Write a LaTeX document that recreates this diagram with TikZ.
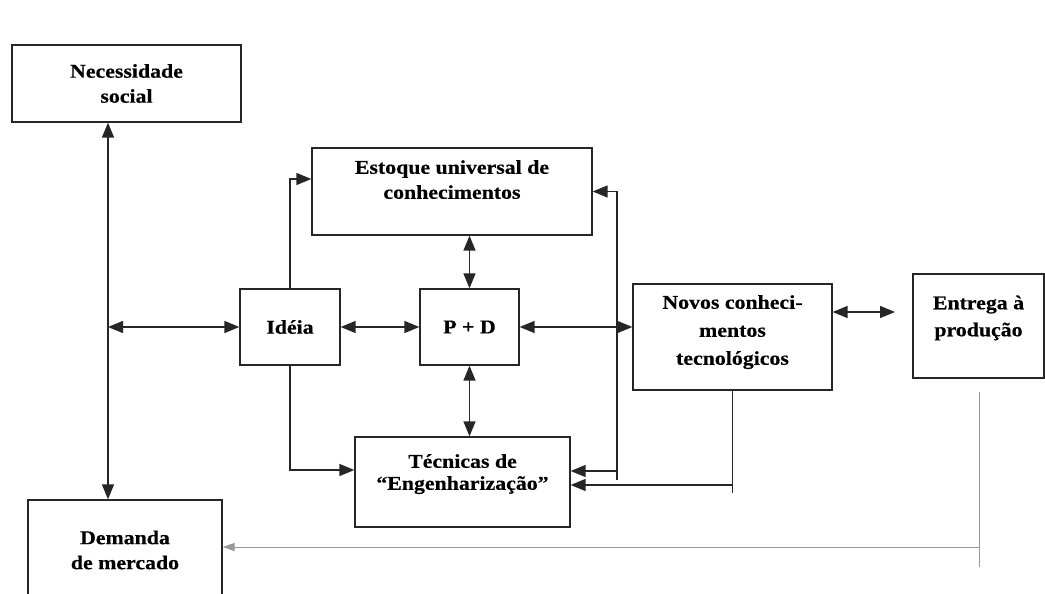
\documentclass[tikz,border=0pt]{standalone}
\usepackage{fontspec}
\setmainfont{Liberation Serif}[FakeStretch=1.12,BoldFeatures={FakeBold=0.4}]
\usetikzlibrary{arrows.meta}

\begin{document}
\begin{tikzpicture}[x=1pt,y=-1pt,
	box/.style={draw=black!85,line width=1.3pt,rectangle,align=center,inner sep=2pt,font=\fontsize{19.5}{25}\selectfont\bfseries},
	link/.style={draw=black!85,line width=1.4pt},
	back/.style={draw=black!40,line width=0.9pt},
	>={Triangle[length=15pt,width=12pt]}]
	\clip (0,0) rectangle (1045,594);
	\fill[white] (0,0) rectangle (1045,594);
	\node[box,minimum width=229pt,minimum height=77pt] (nec) at (126.5,83.5) {Necessidade\\social};
	\node[box,minimum width=280pt,minimum height=87pt,text depth=24pt] (est) at (452,191.5) {Estoque universal de\\conhecimentos};
	\node[box,minimum width=100pt,minimum height=76pt] (idea) at (290,327) {Idéia};
	\node[box,minimum width=99pt,minimum height=76pt] (pd) at (469.5,327) {P + D};
	\node[box,minimum width=199pt,minimum height=106pt,text depth=14pt,font=\fontsize{19.5}{28}\selectfont\bfseries] (novos) at (732.5,337) {Novos conheci-\\mentos\\tecnológicos};
	\node[box,minimum width=131pt,minimum height=104pt,text depth=20pt,font=\fontsize{19.5}{27}\selectfont\bfseries] (entrega) at (978.5,326) {Entrega à\\produção};
	\node[box,minimum width=215pt,minimum height=90pt,text depth=20pt,font=\fontsize{19.5}{22}\selectfont\bfseries] (tec) at (462.5,482) {Técnicas de\\“Engenharização”};
	\node[box,minimum width=194pt,minimum height=100pt] (dem) at (125,550) {Demanda\\de mercado};
	\coordinate (lbus) at (108,0);
	\coordinate (rbus) at (617,0);
	\coordinate (entin) at (895,312);
	\coordinate (gtop) at (979,392);
	\coordinate (gbot) at (979,567);
	\draw[link,<->] (nec.south -| lbus) -- (dem.north -| lbus);
	\draw[link,<->] (idea.west -| lbus) -- (idea.west);
	\draw[link,<->] (idea.east) -- (pd.west);
	\draw[link,->] (idea.north) |- ([yshift=12.5pt]est.west);
	\draw[link,->] (idea.south) |- ([yshift=12pt]tec.west);
	\draw[link,<->] (pd.north) -- (pd.north |- est.south);
	\draw[link,<->] (pd.south) -- (pd.south |- tec.north);
	\draw[link,<->] (pd.east) -- (novos.west |- pd.east);
	\draw[link,->] (rbus |- 0,480) |- (est.east);
	\draw[link,->] ([yshift=11pt]tec.east -| rbus) -- ([yshift=11pt]tec.east);
	\draw[link] (novos.south) -- (novos.south |- 0,493);
	\draw[link,->] ([yshift=-3pt]tec.east -| novos.south) -- ([yshift=-3pt]tec.east);
	\draw[link,<->] (novos.east |- entin) -- (entin);
	\draw[back] (gtop) -- (gbot);
	\draw[back,-{Triangle[length=12pt,width=8pt]}] ([yshift=3pt]dem.east -| gtop) -- ([yshift=3pt]dem.east);
\end{tikzpicture}
\end{document}
